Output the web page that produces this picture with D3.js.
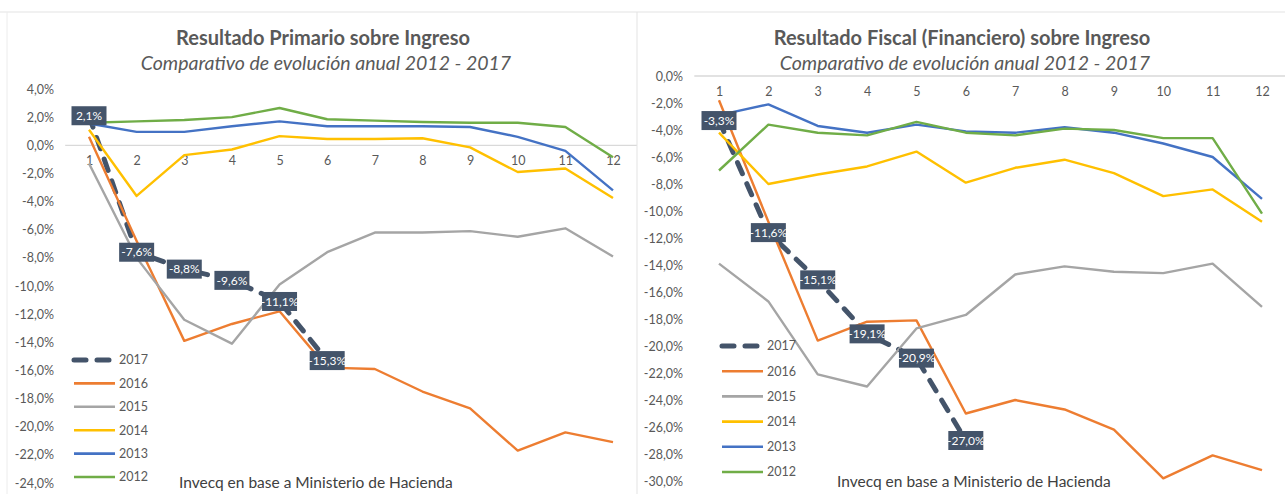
<!DOCTYPE html>
<html>
<head>
<meta charset="utf-8">
<script src="https://cdn.jsdelivr.net/npm/d3@7"></script>
<style>
  body { margin: 0; background: #fff; }
  svg { display: block; font-family: Lato, "Open Sans", sans-serif; }
</style>
</head>
<body>
<div id="chart"></div>
<script>
// meses 1..12
let meses = [1,2,3,4,5,6,7,8,9,10,11,12];
let anios = ["2017","2016","2015","2014","2013","2012"];

// Resultado Primario sobre Ingreso (%)
let prim2017 = [2.1, -7.6, -8.8, -9.6, -11.1, -15.3];
let prim2016 = [0.6, -6.8, -13.9, -12.7, -11.8, -15.8, -15.9, -17.5, -18.7, -21.7, -20.4, -21.1];
let prim2015 = [-1.3, -8.0, -12.4, -14.1, -9.9, -7.6, -6.2, -6.2, -6.1, -6.5, -5.9, -7.9];
let prim2014 = [1.1, -3.6, -0.7, -0.3, 0.65, 0.45, 0.45, 0.5, -0.15, -1.9, -1.65, -3.75];
let prim2013 = [1.55, 0.95, 0.95, 1.35, 1.7, 1.35, 1.35, 1.35, 1.3, 0.6, -0.4, -3.2];
let prim2012 = [1.6, 1.7, 1.8, 2.0, 2.65, 1.85, 1.75, 1.65, 1.6, 1.6, 1.3, -0.85];
let primTicks = [4,2,0,-2,-4,-6,-8,-10,-12,-14,-16,-18,-20,-22,-24];

// Resultado Fiscal (Financiero) sobre Ingreso (%)
let fisc2017 = [-3.3, -11.6, -15.1, -19.1, -20.9, -27.0];
let fisc2016 = [-1.8, -10.8, -19.6, -18.2, -18.1, -25.0, -24.0, -24.7, -26.2, -29.8, -28.1, -29.2];
let fisc2015 = [-13.9, -16.7, -22.1, -23.0, -18.7, -17.7, -14.7, -14.1, -14.5, -14.6, -13.9, -17.1];
let fisc2014 = [-4.2, -8.0, -7.3, -6.7, -5.6, -7.9, -6.8, -6.2, -7.2, -8.9, -8.4, -10.8];
let fisc2013 = [-2.9, -2.1, -3.7, -4.2, -3.6, -4.1, -4.2, -3.8, -4.2, -5.0, -6.0, -9.1];
let fisc2012 = [-7.0, -3.6, -4.2, -4.4, -3.4, -4.2, -4.4, -3.9, -4.0, -4.6, -4.6, -10.2];
let fiscTicks = [0,-2,-4,-6,-8,-10,-12,-14,-16,-18,-20,-22,-24,-26,-28,-30];

let colores = {"2017":"#44546A","2016":"#ED7D31","2015":"#A5A5A5","2014":"#FFC000","2013":"#4472C4","2012":"#70AD47"};

let larg = 1285, alt = 494;
let canvas = d3.select("#chart").append("svg")
    .attr("width", larg).attr("height", alt);

// bordes
canvas.append("line").attr("x1",0).attr("x2",larg).attr("y1",12).attr("y2",12)
    .attr("stroke","#e3e3e3");
canvas.append("line").attr("x1",7).attr("x2",7).attr("y1",12).attr("y2",alt)
    .attr("stroke","#ececec");
canvas.append("line").attr("x1",637).attr("x2",637).attr("y1",12).attr("y2",alt)
    .attr("stroke","#e3e3e3");

let fmt = (v) => d3.format(".1f")(v).replace("−", "-").replace(".", ",") + "%";

function panel(cfg) {
    let x = d3.scalePoint().domain(meses).range(cfg.xr);
    let y = d3.scaleLinear().domain(cfg.yd).range(cfg.yr);
    let g = canvas.append("g");

    // titulo
    g.append("text").attr("x", cfg.tx).attr("y", 45).attr("text-anchor","middle")
        .style("font-size","20px").style("font-weight","bold").attr("fill","#595959")
        .text(cfg.titulo);
    g.append("text").attr("x", cfg.tx + 3).attr("y", 70).attr("text-anchor","middle")
        .style("font-size","19.5px").style("font-style","italic").attr("fill","#595959")
        .text("Comparativo de evolución anual 2012 - 2017");

    // eje y
    let ejeY = d3.axisLeft(y).tickValues(cfg.ticks).tickSize(0).tickPadding(0)
        .tickFormat(fmt);
    g.append("g").attr("transform", "translate(" + cfg.yx + ",0)").call(ejeY)
        .call(a => a.select(".domain").remove())
        .selectAll("text").style("font-size","12.5px").attr("fill","#595959")
        .style("font-family","Lato, sans-serif");

    // linea del cero
    let step = x.step();
    g.append("line").attr("x1", cfg.xr[0] - step/2).attr("x2", cfg.xr[1] + step/2)
        .attr("y1", y(0)).attr("y2", y(0)).attr("stroke","#d9d9d9").attr("stroke-width",1.3);

    // eje x (etiquetas debajo del cero)
    let ejeX = d3.axisBottom(x).tickSize(0).tickPadding(0);
    g.append("g").attr("transform", "translate(0," + (y(0) + 11) + ")").call(ejeX)
        .call(a => a.select(".domain").remove())
        .selectAll("text").style("font-size","12.5px").attr("fill","#595959")
        .style("font-family","Lato, sans-serif");

    let linea = d3.line().x((d, i) => x(meses[i])).y((d) => y(d));

    anios.forEach((a) => {
        let p = g.append("path").datum(cfg.series[a]).attr("d", linea)
            .attr("fill","none").attr("stroke", colores[a])
            .attr("stroke-linejoin","round");
        if (a == "2017") {
            p.attr("stroke-width", 5).attr("stroke-dasharray","12,11").attr("stroke-linecap","round");
        } else {
            p.attr("stroke-width", 2.4);
        }
    });

    // etiquetas 2017
    let et = g.selectAll(".et").data(cfg.series["2017"]).enter().append("g")
        .attr("transform", (d, i) => "translate(" + x(meses[i]) + "," + y(d) + ")");
    et.append("rect").attr("x", -17.5).attr("y", -9.5).attr("width", 35).attr("height", 19)
        .attr("fill", colores["2017"]);
    et.append("text").attr("text-anchor","middle").attr("dy","0.35em")
        .style("font-size","12px").attr("fill","#fff").text((d) => fmt(d));

    // leyenda
    let ley = g.selectAll(".ley").data(anios).enter().append("g")
        .attr("transform", (d, i) => "translate(" + cfg.lx + "," + (cfg.ly + i*cfg.ls) + ")");
    ley.append("line").attr("x1", 0).attr("x2", 41)
        .attr("stroke", (d) => colores[d])
        .attr("stroke-width", (d) => d == "2017" ? 5 : 2.6)
        .attr("stroke-dasharray", (d) => d == "2017" ? "12,11" : null)
        .attr("stroke-linecap", (d) => d == "2017" ? "round" : "butt");
    ley.append("text").attr("x", 45).attr("dy","0.35em")
        .style("font-size","12.5px").attr("fill","#595959").text((d) => d);

    // fuente
    g.append("text").attr("x", cfg.fx).attr("y", cfg.fy)
        .style("font-size","15.5px").attr("fill","#404040")
        .text("Invecq en base a Ministerio de Hacienda");
}

panel({
    titulo: "Resultado Primario sobre Ingreso", tx: 323,
    xr: [89, 613], yd: [4, -24], yr: [89, 483], yx: 54, ticks: primTicks,
    series: {"2017":prim2017,"2016":prim2016,"2015":prim2015,"2014":prim2014,"2013":prim2013,"2012":prim2012},
    lx: 74, ly: 360, ls: 23.4, fx: 179, fy: 488
});

panel({
    titulo: "Resultado Fiscal (Financiero) sobre Ingreso", tx: 962,
    xr: [719, 1262], yd: [0, -30], yr: [76, 481], yx: 683, ticks: fiscTicks,
    series: {"2017":fisc2017,"2016":fisc2016,"2015":fisc2015,"2014":fisc2014,"2013":fisc2013,"2012":fisc2012},
    lx: 722, ly: 346, ls: 25.2, fx: 837, fy: 487
});
</script>
</body>
</html>
